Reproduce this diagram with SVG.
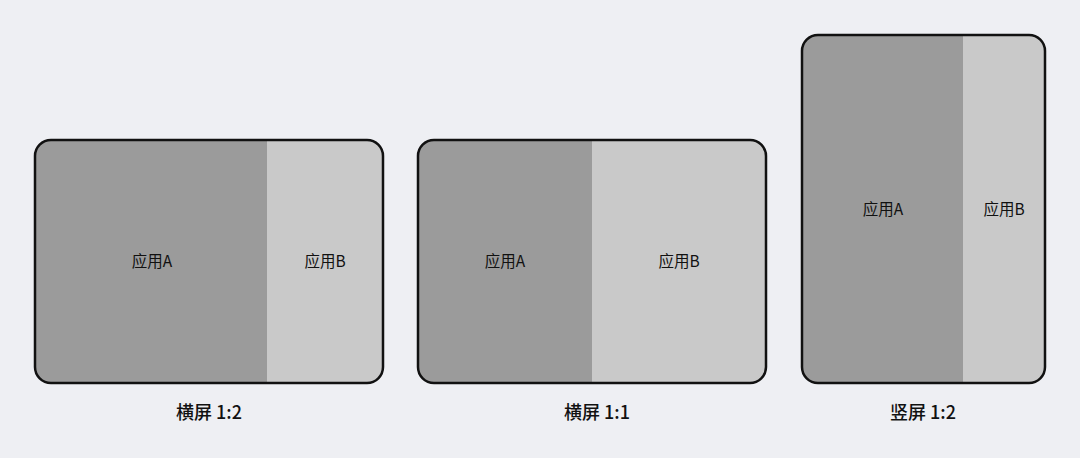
<svg xmlns="http://www.w3.org/2000/svg" width="1080" height="458" viewBox="0 0 1080 458">
<defs>
<style>
.a{fill:#9b9b9b}
.b{fill:#c9c9c9}
.frame{fill:none;stroke:#111;stroke-width:2.5}
.lbl{font-family:"Noto Sans CJK SC","Noto Sans",sans-serif;font-size:15.5px;fill:#111;text-anchor:middle;dominant-baseline:central}
.cap{font-family:"Noto Sans CJK SC","Noto Sans",sans-serif;font-size:18px;font-weight:500;fill:#111;text-anchor:middle;dominant-baseline:central}
</style>
<clipPath id="c1"><rect x="35" y="140" width="348" height="243" rx="16"/></clipPath>
<clipPath id="c2"><rect x="418" y="140" width="348" height="243" rx="16"/></clipPath>
<clipPath id="c3"><rect x="802" y="35" width="243" height="348" rx="16"/></clipPath>
</defs>
<rect width="1080" height="458" fill="#eeeff3"/>
<g id="screen-1-2-landscape">
<g clip-path="url(#c1)">
<rect class="a" x="35" y="140" width="232" height="243"/>
<rect class="b" x="267" y="140" width="116" height="243"/>
</g>
<rect class="frame" x="35" y="140" width="348" height="243" rx="16"/>
<text class="lbl" x="152" y="260">应用A</text>
<text class="lbl" x="325" y="260">应用B</text>
<text class="cap" x="209" y="411">横屏 1:2</text>
</g>
<g id="screen-1-1-landscape">
<g clip-path="url(#c2)">
<rect class="a" x="418" y="140" width="174" height="243"/>
<rect class="b" x="592" y="140" width="174" height="243"/>
</g>
<rect class="frame" x="418" y="140" width="348" height="243" rx="16"/>
<text class="lbl" x="505" y="260">应用A</text>
<text class="lbl" x="679" y="260">应用B</text>
<text class="cap" x="597" y="411">横屏 1:1</text>
</g>
<g id="screen-1-2-portrait">
<g clip-path="url(#c3)">
<rect class="a" x="802" y="35" width="161" height="348"/>
<rect class="b" x="963" y="35" width="82" height="348"/>
</g>
<rect class="frame" x="802" y="35" width="243" height="348" rx="16"/>
<text class="lbl" x="883" y="208">应用A</text>
<text class="lbl" x="1004" y="208">应用B</text>
<text class="cap" x="923" y="411">竖屏 1:2</text>
</g>
<g id="connectors"/>
</svg>
